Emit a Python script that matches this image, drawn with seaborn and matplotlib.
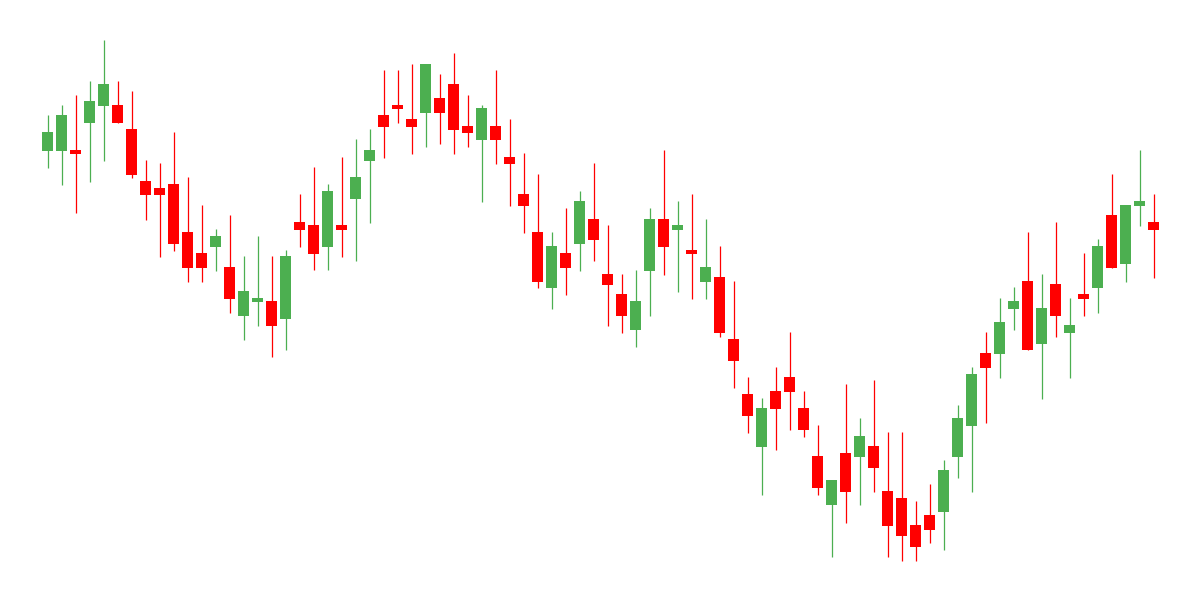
import numpy as np
import pandas as pd
import matplotlib
matplotlib.use("Agg")
import matplotlib.pyplot as plt
import seaborn as sns

# OHLC values (80 sessions)
opens = [449, 449.3, 450, 477.3, 494.3, 495, 471, 419, 412, 416,
         368, 347, 353.3, 333, 284.3, 298.3, 299, 281.3, 378, 375,
         353.3, 375, 401.3, 439.3, 485, 495, 481, 487.3, 502, 516,
         474, 460.3, 474, 443, 406, 368, 312.3, 347, 356.3, 381,
         326, 306, 270.3, 329.3, 381, 370.3, 350, 318.3, 323, 261,
         206, 153.3, 209, 223, 192, 144, 95.3, 147, 143.3, 154,
         109, 102, 75, 85, 88.3, 143.3, 174.3, 247, 246.3, 291.3,
         319, 256.3, 316, 267.3, 306, 312.3, 385, 336.3, 394.3, 378]
highs = [485, 495, 505, 519, 560, 519, 509, 440, 437, 468.3,
         423, 395, 371, 385, 344, 364, 344, 350, 406, 433,
         416, 443, 461, 471, 530, 530, 536, 536, 526, 547,
         505, 495, 530, 481, 447, 426, 368, 392, 409, 437,
         375, 326, 330, 392, 450, 399, 406, 381, 354, 319,
         223, 202, 233, 268, 209, 175, 120, 216, 182, 220,
         168, 168, 99, 116, 140, 195, 233, 268, 302, 313,
         368, 326, 378, 302, 347, 361, 426, 395, 450, 406]
lows = [432, 415.3, 387.3, 418.3, 439.3, 477.3, 422.3, 380.3, 343.3, 349.3,
        318.3, 318.3, 329.3, 287.3, 260.3, 274.3, 243.3, 250.3, 353.3, 330.3,
        330.3, 343.3, 339.3, 377.3, 442.3, 477.3, 446.3, 453.3, 456.3, 446.3,
        453.3, 398.3, 436.3, 394.3, 367.3, 312.3, 291.3, 305.3, 329.3, 339.3,
        274.3, 267.3, 253.3, 284.3, 325.3, 308.3, 301.3, 301.3, 263.3, 212.3,
        167.3, 105.3, 150.3, 170.3, 163.3, 105.3, 43.3, 77.3, 95.3, 108.3,
        43.3, 39.3, 39.3, 57.3, 50.3, 122.3, 108.3, 177.3, 222.3, 270.3,
        250.3, 201.3, 263.3, 222.3, 284.3, 287.3, 332.3, 318.3, 374.3, 322.3]
closes = [468, 485, 446.3, 499, 516, 477.3, 425, 405.3, 405.3, 356.3,
          332.3, 332.3, 364, 301.3, 309, 302, 274.3, 344, 370.3, 346.3,
          409, 370.3, 423, 450, 473.3, 491.3, 473.3, 536, 487.3, 470.3,
          467.3, 492, 460.3, 436.3, 394.3, 318.3, 354, 332.3, 399, 360.3,
          315.3, 284.3, 299, 381, 353.3, 375, 346.3, 333, 267.3, 239.3,
          184.3, 192, 191.3, 208.3, 170.3, 112.3, 120, 108.3, 164, 132.3,
          74.3, 64.3, 53.3, 70.3, 130, 182, 226, 232.3, 278, 299,
          250.3, 292, 284.3, 275, 301.3, 354, 332.3, 395, 399, 370.3]

df = pd.DataFrame({"open": opens, "high": highs, "low": lows, "close": closes})
df["idx"] = np.arange(len(df))
df["up"] = df["close"] >= df["open"]
df["color"] = np.where(df["up"], "#4CAF50", "#FF0000")
df["bottom"] = df[["open", "close"]].min(axis=1)
df["height"] = (df["close"] - df["open"]).abs()

sns.set_style("white")
fig = plt.figure(figsize=(12, 6), dpi=100)
ax = fig.add_axes([0, 0, 1, 1])

# wicks then bodies
ax.vlines(df["idx"], df["low"], df["high"], colors=df["color"], linewidth=0.9, zorder=1)
ax.bar(df["idx"], df["height"], bottom=df["bottom"], width=0.79,
       color=df["color"], linewidth=0, zorder=2)

ax.set_xlim(-3.393, 82.32)
ax.set_ylim(0, 600)
ax.axis("off")
sns.despine(left=True, bottom=True)

fig.savefig("out.png", dpi=100, facecolor="white")
